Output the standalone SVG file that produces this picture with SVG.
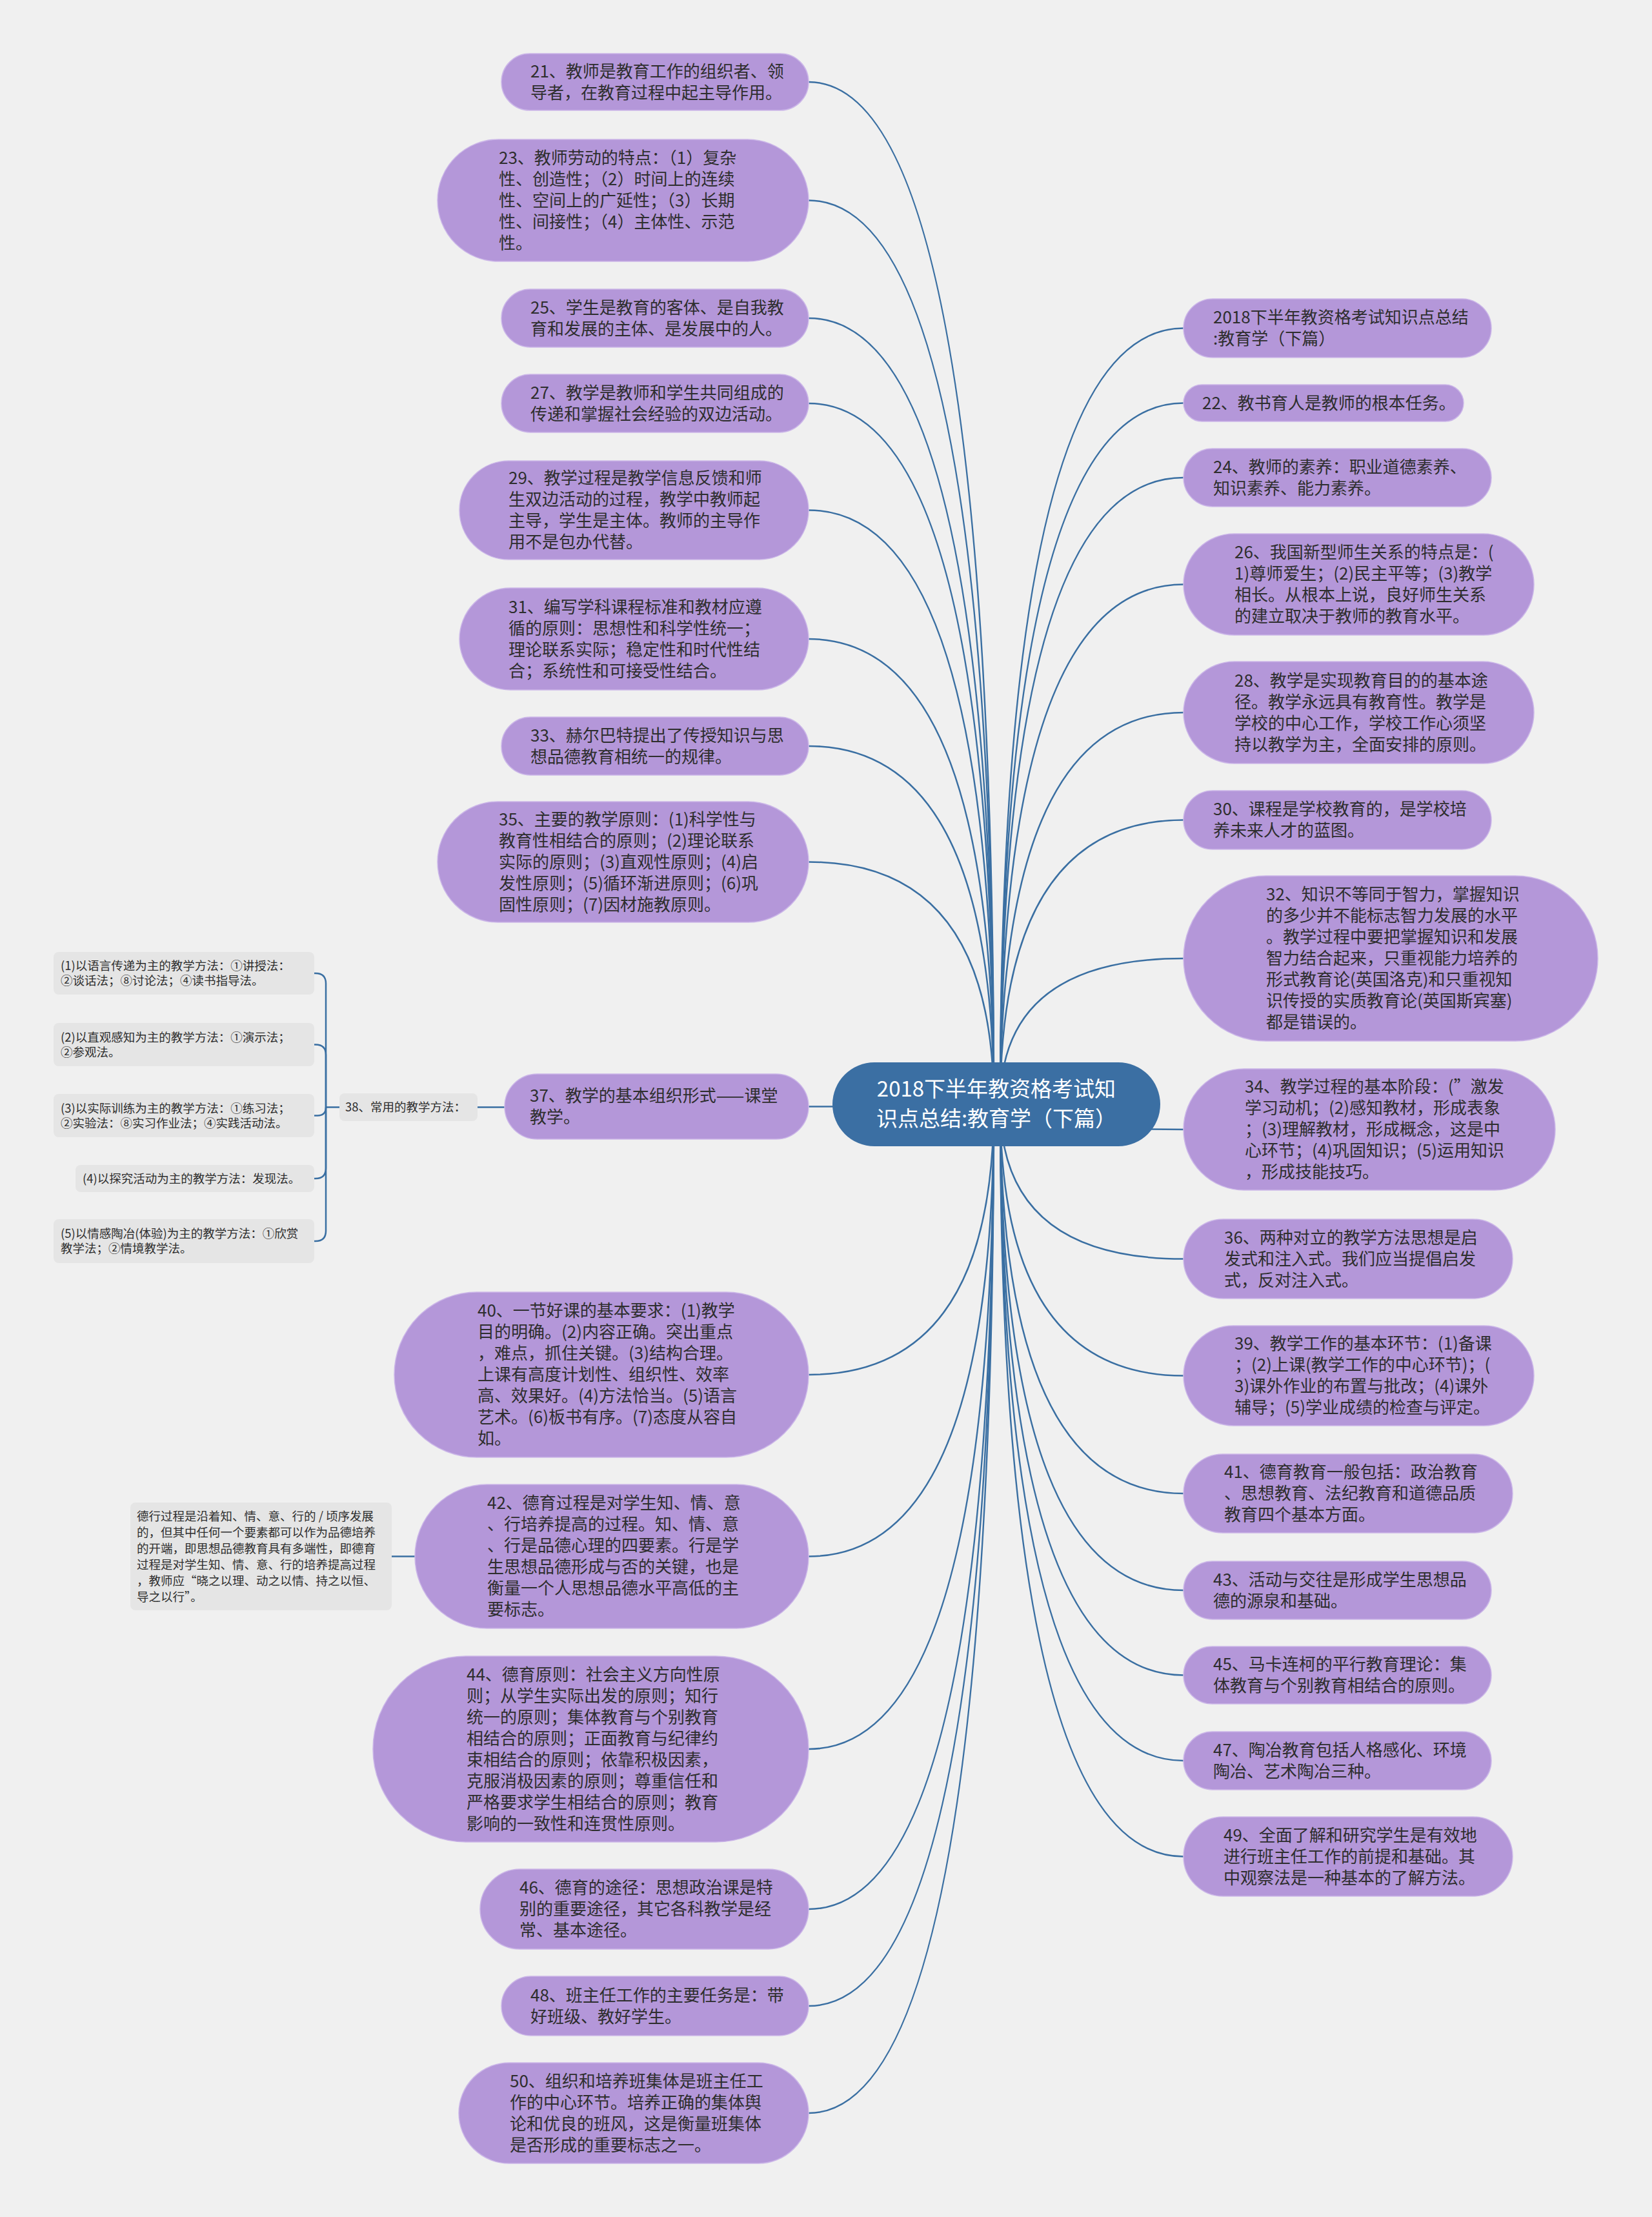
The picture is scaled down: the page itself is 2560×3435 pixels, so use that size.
<svg xmlns="http://www.w3.org/2000/svg" width="2560" height="3435" viewBox="0 0 2560 3435">
<style>
.bg{fill:#f0f0f0}
.n{fill:#b497d9;stroke:#cbb6e8;stroke-width:1.5}
.b{fill:#e5e5e5}
.t{font-family:"Noto Sans CJK SC","Microsoft YaHei",sans-serif;font-size:26px;fill:#2e2e2e}
.s{font-family:"Noto Sans CJK SC","Microsoft YaHei",sans-serif;font-size:18.5px;fill:#2e2e2e}
.r{font-family:"Noto Sans CJK SC","Microsoft YaHei",sans-serif;font-size:33px;fill:#ffffff}
.c{fill:none;stroke:#3a6fa2;stroke-width:2.5}
</style>
<rect class="bg" x="0" y="0" width="2560" height="3435"/>
<g id="connectors">
<path class="c" d="M1540,1711 Q1540,127 1253,127"/>
<path class="c" d="M1540,1711 Q1540,310.5 1253,310.5"/>
<path class="c" d="M1540,1711 Q1540,493 1253,493"/>
<path class="c" d="M1540,1711 Q1540,625 1253,625"/>
<path class="c" d="M1540,1711 Q1540,790.5 1253,790.5"/>
<path class="c" d="M1540,1711 Q1540,990 1253,990"/>
<path class="c" d="M1540,1711 Q1540,1156 1253,1156"/>
<path class="c" d="M1540,1711 Q1540,1335.5 1253,1335.5"/>
<path class="c" d="M1540,1711 Q1540,1714.5 1253,1714.5"/>
<path class="c" d="M1540,1711 Q1540,2130 1253,2130"/>
<path class="c" d="M1540,1711 Q1540,2411.5 1253,2411.5"/>
<path class="c" d="M1540,1711 Q1540,2710 1253,2710"/>
<path class="c" d="M1540,1711 Q1540,2958 1253,2958"/>
<path class="c" d="M1540,1711 Q1540,3108 1253,3108"/>
<path class="c" d="M1540,1711 Q1540,3274 1253,3274"/>
<path class="c" d="M1550,1711 Q1550,508.5 1834,508.5"/>
<path class="c" d="M1550,1711 Q1550,624.5 1834,624.5"/>
<path class="c" d="M1550,1711 Q1550,740 1834,740"/>
<path class="c" d="M1550,1711 Q1550,905.5 1834,905.5"/>
<path class="c" d="M1550,1711 Q1550,1104 1834,1104"/>
<path class="c" d="M1550,1711 Q1550,1270.5 1834,1270.5"/>
<path class="c" d="M1550,1711 Q1550,1485 1834,1485"/>
<path class="c" d="M1550,1711 Q1550,1750 1834,1750"/>
<path class="c" d="M1550,1711 Q1550,1950.5 1834,1950.5"/>
<path class="c" d="M1550,1711 Q1550,2131.5 1834,2131.5"/>
<path class="c" d="M1550,1711 Q1550,2314 1834,2314"/>
<path class="c" d="M1550,1711 Q1550,2464 1834,2464"/>
<path class="c" d="M1550,1711 Q1550,2595.5 1834,2595.5"/>
<path class="c" d="M1550,1711 Q1550,2728 1834,2728"/>
<path class="c" d="M1550,1711 Q1550,2876.5 1834,2876.5"/>
<path class="c" d="M782,1715.5 H740"/>
<path class="c" d="M526,1715.5 H505"/>
<path class="c" d="M505,1715.5 V1524 Q505,1508 489,1508 H487"/>
<path class="c" d="M505,1715.5 V1634.5 Q505,1618.5 489,1618.5 H487"/>
<path class="c" d="M505,1715.5 Q505,1728.5 492,1728.5 H487"/>
<path class="c" d="M505,1715.5 V1810 Q505,1826 489,1826 H487"/>
<path class="c" d="M505,1715.5 V1907 Q505,1923 489,1923 H487"/>
<path class="c" d="M643,2411.5 H607"/>
</g>
<g id="root">
<rect x="1290" y="1646" width="508" height="130" rx="65" fill="#3b6fa3"/>
<text class="r" text-anchor="middle"><tspan x="1544" y="1698.5">2018下半年教资格考试知</tspan><tspan x="1544" y="1744.5">识点总结:教育学（下篇）</tspan></text>
</g>
<g id="n21"><rect class="n" x="777" y="83" width="476" height="88" rx="44"/>
<text class="t"><tspan x="822" y="119.5">21、教师是教育工作的组织者、领</tspan><tspan x="822" y="152.5">导者，在教育过程中起主导作用。</tspan></text></g>
<g id="n23"><rect class="n" x="678" y="216" width="575" height="189" rx="94.5"/>
<text class="t"><tspan x="773" y="253.5">23、教师劳动的特点：（1）复杂</tspan><tspan x="773" y="286.5">性、创造性；（2）时间上的连续</tspan><tspan x="773" y="319.5">性、空间上的广延性；（3）长期</tspan><tspan x="773" y="352.5">性、间接性；（4）主体性、示范</tspan><tspan x="773" y="385.5">性。</tspan></text></g>
<g id="n25"><rect class="n" x="777" y="448" width="476" height="90" rx="45"/>
<text class="t"><tspan x="822" y="485.5">25、学生是教育的客体、是自我教</tspan><tspan x="822" y="518.5">育和发展的主体、是发展中的人。</tspan></text></g>
<g id="n27"><rect class="n" x="777" y="580" width="476" height="90" rx="45"/>
<text class="t"><tspan x="822" y="617.5">27、教学是教师和学生共同组成的</tspan><tspan x="822" y="650.5">传递和掌握社会经验的双边活动。</tspan></text></g>
<g id="n29"><rect class="n" x="712" y="714" width="541" height="153" rx="76.5"/>
<text class="t"><tspan x="788" y="750">29、教学过程是教学信息反馈和师</tspan><tspan x="788" y="783">生双边活动的过程，教学中教师起</tspan><tspan x="788" y="816">主导，学生是主体。教师的主导作</tspan><tspan x="788" y="849">用不是包办代替。</tspan></text></g>
<g id="n31"><rect class="n" x="712" y="911" width="541" height="158" rx="79"/>
<text class="t"><tspan x="788" y="949.5">31、编写学科课程标准和教材应遵</tspan><tspan x="788" y="982.5">循的原则：思想性和科学性统一；</tspan><tspan x="788" y="1015.5">理论联系实际；稳定性和时代性结</tspan><tspan x="788" y="1048.5">合；系统性和可接受性结合。</tspan></text></g>
<g id="n33"><rect class="n" x="777" y="1111" width="476" height="90" rx="45"/>
<text class="t"><tspan x="822" y="1148.5">33、赫尔巴特提出了传授知识与思</tspan><tspan x="822" y="1181.5">想品德教育相统一的规律。</tspan></text></g>
<g id="n35"><rect class="n" x="678" y="1242" width="575" height="187" rx="93.5"/>
<text class="t"><tspan x="773" y="1278.5">35、主要的教学原则：(1)科学性与</tspan><tspan x="773" y="1311.5">教育性相结合的原则；(2)理论联系</tspan><tspan x="773" y="1344.5">实际的原则；(3)直观性原则；(4)启</tspan><tspan x="773" y="1377.5">发性原则；(5)循环渐进原则；(6)巩</tspan><tspan x="773" y="1410.5">固性原则；(7)因材施教原则。</tspan></text></g>
<g id="n37"><rect class="n" x="782" y="1664" width="471" height="101" rx="50.5"/>
<text class="t"><tspan x="821" y="1707">37、教学的基本组织形式——课堂</tspan><tspan x="821" y="1740">教学。</tspan></text></g>
<g id="n38"><rect class="b" x="526" y="1694" width="214" height="43" rx="8"/>
<text class="s"><tspan x="535" y="1722">38、常用的教学方法：</tspan></text></g>
<g id="n38a"><rect class="b" x="83" y="1475" width="404" height="66" rx="8"/>
<text class="s"><tspan x="94" y="1503">(1)以语言传递为主的教学方法：①讲授法：</tspan><tspan x="94" y="1526">②谈话法；⑧讨论法；④读书指导法。</tspan></text></g>
<g id="n38b"><rect class="b" x="83" y="1585" width="404" height="67" rx="8"/>
<text class="s"><tspan x="94" y="1613.5">(2)以直观感知为主的教学方法：①演示法；</tspan><tspan x="94" y="1636.5">②参观法。</tspan></text></g>
<g id="n38c"><rect class="b" x="83" y="1695" width="404" height="67" rx="8"/>
<text class="s"><tspan x="94" y="1723.5">(3)以实际训练为主的教学方法：①练习法；</tspan><tspan x="94" y="1746.5">②实验法：⑧实习作业法；④实践活动法。</tspan></text></g>
<g id="n38d"><rect class="b" x="117" y="1805" width="370" height="42" rx="8"/>
<text class="s"><tspan x="128" y="1832.5">(4)以探究活动为主的教学方法：发现法。</tspan></text></g>
<g id="n38e"><rect class="b" x="83" y="1889" width="404" height="68" rx="8"/>
<text class="s"><tspan x="94" y="1918">(5)以情感陶冶(体验)为主的教学方法：①欣赏</tspan><tspan x="94" y="1941">教学法；②情境教学法。</tspan></text></g>
<g id="n40"><rect class="n" x="611" y="2002" width="642" height="256" rx="128"/>
<text class="t"><tspan x="740" y="2040">40、一节好课的基本要求：(1)教学</tspan><tspan x="740" y="2073">目的明确。(2)内容正确。突出重点</tspan><tspan x="740" y="2106">，难点，抓住关键。(3)结构合理。</tspan><tspan x="740" y="2139">上课有高度计划性、组织性、效率</tspan><tspan x="740" y="2172">高、效果好。(4)方法恰当。(5)语言</tspan><tspan x="740" y="2205">艺术。(6)板书有序。(7)态度从容自</tspan><tspan x="740" y="2238">如。</tspan></text></g>
<g id="n42"><rect class="n" x="643" y="2300" width="610" height="223" rx="111.5"/>
<text class="t"><tspan x="755" y="2338">42、德育过程是对学生知、情、意</tspan><tspan x="755" y="2371">、行培养提高的过程。知、情、意</tspan><tspan x="755" y="2404">、行是品德心理的四要素。行是学</tspan><tspan x="755" y="2437">生思想品德形成与否的关键，也是</tspan><tspan x="755" y="2470">衡量一个人思想品德水平高低的主</tspan><tspan x="755" y="2503">要标志。</tspan></text></g>
<g id="n42note"><rect class="b" x="202" y="2328" width="405" height="167" rx="8"/>
<text class="s"><tspan x="212" y="2355.5">德行过程是沿着知、情、意、行的 / 顷序发展</tspan><tspan x="212" y="2380.5">的，但其中任何一个要素都可以作为品德培养</tspan><tspan x="212" y="2405.5">的开端，即思想品德教育具有多端性，即德育</tspan><tspan x="212" y="2430.5">过程是对学生知、情、意、行的培养提高过程</tspan><tspan x="212" y="2455.5">，教师应“晓之以理、动之以情、持之以恒、</tspan><tspan x="212" y="2480.5">导之以行”。</tspan></text></g>
<g id="n44"><rect class="n" x="578" y="2566" width="675" height="288" rx="144"/>
<text class="t"><tspan x="723" y="2603.5">44、德育原则：社会主义方向性原</tspan><tspan x="723" y="2636.5">则；从学生实际出发的原则；知行</tspan><tspan x="723" y="2669.5">统一的原则；集体教育与个别教育</tspan><tspan x="723" y="2702.5">相结合的原则；正面教育与纪律约</tspan><tspan x="723" y="2735.5">束相结合的原则；依靠积极因素，</tspan><tspan x="723" y="2768.5">克服消极因素的原则；尊重信任和</tspan><tspan x="723" y="2801.5">严格要求学生相结合的原则；教育</tspan><tspan x="723" y="2834.5">影响的一致性和连贯性原则。</tspan></text></g>
<g id="n46"><rect class="n" x="744" y="2896" width="509" height="124" rx="62"/>
<text class="t"><tspan x="805" y="2934">46、德育的途径：思想政治课是特</tspan><tspan x="805" y="2967">别的重要途径，其它各科教学是经</tspan><tspan x="805" y="3000">常、基本途径。</tspan></text></g>
<g id="n48"><rect class="n" x="777" y="3062" width="476" height="92" rx="46"/>
<text class="t"><tspan x="822" y="3100.5">48、班主任工作的主要任务是：带</tspan><tspan x="822" y="3133.5">好班级、教好学生。</tspan></text></g>
<g id="n50"><rect class="n" x="711" y="3196" width="542" height="156" rx="78"/>
<text class="t"><tspan x="790" y="3233.5">50、组织和培养班集体是班主任工</tspan><tspan x="790" y="3266.5">作的中心环节。培养正确的集体舆</tspan><tspan x="790" y="3299.5">论和优良的班风，这是衡量班集体</tspan><tspan x="790" y="3332.5">是否形成的重要标志之一。</tspan></text></g>
<g id="r0"><rect class="n" x="1834" y="463" width="477" height="91" rx="45.5"/>
<text class="t"><tspan x="1880" y="501">2018下半年教资格考试知识点总结</tspan><tspan x="1880" y="534">:教育学（下篇）</tspan></text></g>
<g id="n22"><rect class="n" x="1834" y="596" width="434" height="57" rx="28.5"/>
<text class="t"><tspan x="1863" y="633.5">22、教书育人是教师的根本任务。</tspan></text></g>
<g id="n24"><rect class="n" x="1834" y="695" width="477" height="90" rx="45"/>
<text class="t"><tspan x="1880" y="732.5">24、教师的素养：职业道德素养、</tspan><tspan x="1880" y="765.5">知识素养、能力素养。</tspan></text></g>
<g id="n26"><rect class="n" x="1834" y="827" width="543" height="157" rx="78.5"/>
<text class="t"><tspan x="1913" y="865">26、我国新型师生关系的特点是：(</tspan><tspan x="1913" y="898">1)尊师爱生；(2)民主平等；(3)教学</tspan><tspan x="1913" y="931">相长。从根本上说，良好师生关系</tspan><tspan x="1913" y="964">的建立取决于教师的教育水平。</tspan></text></g>
<g id="n28"><rect class="n" x="1834" y="1025" width="543" height="158" rx="79"/>
<text class="t"><tspan x="1913" y="1063.5">28、教学是实现教育目的的基本途</tspan><tspan x="1913" y="1096.5">径。教学永远具有教育性。教学是</tspan><tspan x="1913" y="1129.5">学校的中心工作，学校工作心须坚</tspan><tspan x="1913" y="1162.5">持以教学为主，全面安排的原则。</tspan></text></g>
<g id="n30"><rect class="n" x="1834" y="1225" width="477" height="91" rx="45.5"/>
<text class="t"><tspan x="1880" y="1263">30、课程是学校教育的，是学校培</tspan><tspan x="1880" y="1296">养未来人才的蓝图。</tspan></text></g>
<g id="n32"><rect class="n" x="1834" y="1357" width="642" height="256" rx="128"/>
<text class="t"><tspan x="1962" y="1395">32、知识不等同于智力，掌握知识</tspan><tspan x="1962" y="1428">的多少并不能标志智力发展的水平</tspan><tspan x="1962" y="1461">。教学过程中要把掌握知识和发展</tspan><tspan x="1962" y="1494">智力结合起来，只重视能力培养的</tspan><tspan x="1962" y="1527">形式教育论(英国洛克)和只重视知</tspan><tspan x="1962" y="1560">识传授的实质教育论(英国斯宾塞)</tspan><tspan x="1962" y="1593">都是错误的。</tspan></text></g>
<g id="n34"><rect class="n" x="1834" y="1656" width="576" height="188" rx="94"/>
<text class="t"><tspan x="1929" y="1693">34、教学过程的基本阶段：(”激发</tspan><tspan x="1929" y="1726">学习动机；(2)感知教材，形成表象</tspan><tspan x="1929" y="1759">；(3)理解教材，形成概念，这是中</tspan><tspan x="1929" y="1792">心环节；(4)巩固知识；(5)运用知识</tspan><tspan x="1929" y="1825">，形成技能技巧。</tspan></text></g>
<g id="n36"><rect class="n" x="1834" y="1889" width="510" height="123" rx="61.5"/>
<text class="t"><tspan x="1897" y="1926.5">36、两种对立的教学方法思想是启</tspan><tspan x="1897" y="1959.5">发式和注入式。我们应当提倡启发</tspan><tspan x="1897" y="1992.5">式，反对注入式。</tspan></text></g>
<g id="n39"><rect class="n" x="1834" y="2054" width="543" height="155" rx="77.5"/>
<text class="t"><tspan x="1913" y="2091">39、教学工作的基本环节：(1)备课</tspan><tspan x="1913" y="2124">；(2)上课(教学工作的中心环节)；(</tspan><tspan x="1913" y="2157">3)课外作业的布置与批改；(4)课外</tspan><tspan x="1913" y="2190">辅导；(5)学业成绩的检查与评定。</tspan></text></g>
<g id="n41"><rect class="n" x="1834" y="2253" width="510" height="122" rx="61"/>
<text class="t"><tspan x="1897" y="2290">41、德育教育一般包括：政治教育</tspan><tspan x="1897" y="2323">、思想教育、法纪教育和道德品质</tspan><tspan x="1897" y="2356">教育四个基本方面。</tspan></text></g>
<g id="n43"><rect class="n" x="1834" y="2419" width="477" height="90" rx="45"/>
<text class="t"><tspan x="1880" y="2456.5">43、活动与交往是形成学生思想品</tspan><tspan x="1880" y="2489.5">德的源泉和基础。</tspan></text></g>
<g id="n45"><rect class="n" x="1834" y="2551" width="477" height="89" rx="44.5"/>
<text class="t"><tspan x="1880" y="2588">45、马卡连柯的平行教育理论：集</tspan><tspan x="1880" y="2621">体教育与个别教育相结合的原则。</tspan></text></g>
<g id="n47"><rect class="n" x="1834" y="2683" width="477" height="90" rx="45"/>
<text class="t"><tspan x="1880" y="2720.5">47、陶冶教育包括人格感化、环境</tspan><tspan x="1880" y="2753.5">陶冶、艺术陶冶三种。</tspan></text></g>
<g id="n49"><rect class="n" x="1834" y="2815" width="510" height="123" rx="61.5"/>
<text class="t"><tspan x="1896" y="2852.5">49、全面了解和研究学生是有效地</tspan><tspan x="1896" y="2885.5">进行班主任工作的前提和基础。其</tspan><tspan x="1896" y="2918.5">中观察法是一种基本的了解方法。</tspan></text></g>
</svg>
